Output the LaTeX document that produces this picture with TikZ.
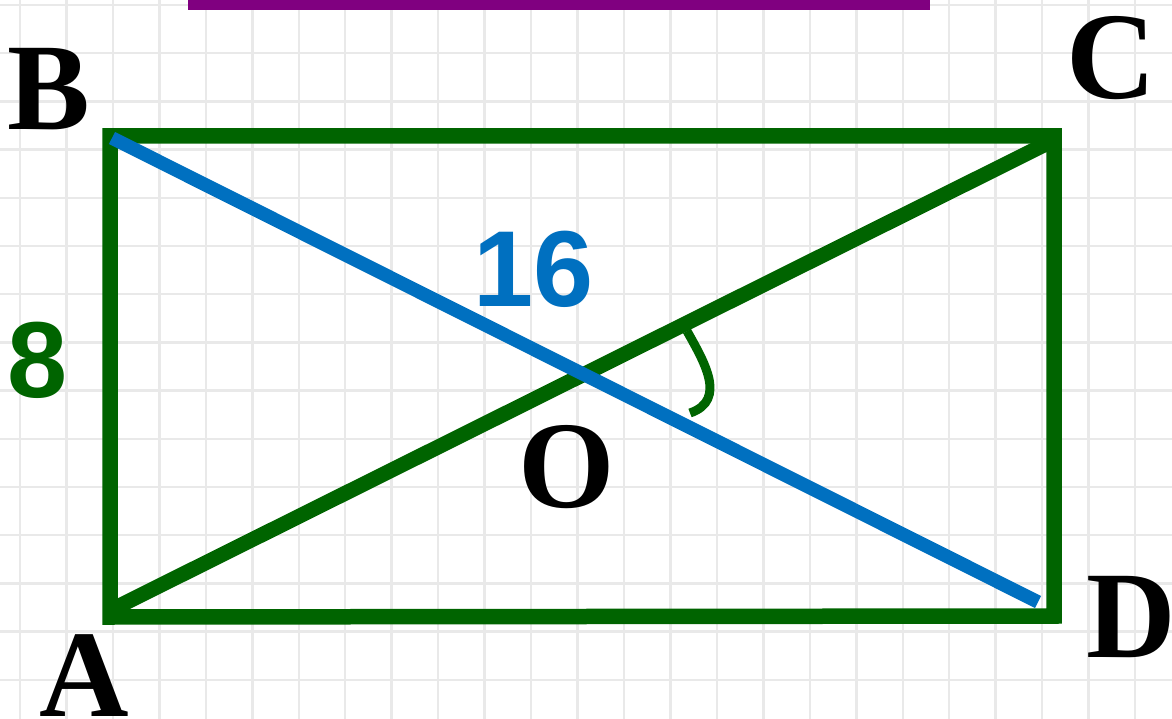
\documentclass[tikz,border=0pt]{standalone}
\usepackage{fontspec}
\setmainfont{Liberation Serif}
\newfontfamily\sansf{Liberation Sans}
\definecolor{rgreen}{RGB}{0,100,0}
\definecolor{rblue}{RGB}{0,112,192}
\definecolor{rpurple}{RGB}{128,0,128}
\definecolor{gridc}{RGB}{233,233,233}
\begin{document}
\begin{tikzpicture}[x=1pt,y=-1pt,
  side/.style={draw=rgreen,line width=15.5pt},
  diagg/.style={draw=rgreen,line width=15pt},
  diagb/.style={draw=rblue,line width=13.5pt},
  anglemark/.style={draw=rgreen,line width=9pt},
  vlabel/.style={inner sep=0pt,font=\fontsize{124}{124}\selectfont\bfseries},
  nlabel/.style={inner sep=0pt,font=\fontsize{108}{108}\selectfont\sansf\bfseries},
  gridline/.style={draw=gridc,line width=2.5pt}]
\useasboundingbox (0,0) rectangle (1172,719);
\fill[white] (0,0) rectangle (1172,719);
% grid
\foreach \i in {0,...,25} { \draw[gridline] ({20+46.46*\i},0) -- ({20+46.46*\i},719); }
\foreach \j in {0,...,14} { \draw[gridline] (0,{5+48.2*\j}) -- (1172,{5+48.2*\j}); }
% purple bar
\fill[rpurple] (188,0) rectangle (930,10);
% points
\coordinate (A) at (110,617);
\coordinate (B) at (110,136);
\coordinate (C) at (1054,136);
\coordinate (D) at (1054,616);
\coordinate (Ag) at (113,609);
\coordinate (Cg) at (1052,141);
\coordinate (Bb) at (112,138);
\coordinate (Db) at (1038,602);
\coordinate (a1) at (687,331);
\coordinate (a2) at (690,413);
% rectangle
\draw[side,line join=miter] (A) -- (B) -- (C) -- (D) -- cycle;
% diagonals
\draw[diagg] (Ag) -- (Cg);
\draw[diagb] (Bb) -- (Db);
% angle mark
\draw[anglemark] (a1) .. controls (703,360) and (728,400) .. (a2);
% labels
\node[vlabel,anchor=base] (lB) at (49,130) {B};
\node[vlabel,anchor=base] (lC) at (1111,99) {C};
\node[vlabel,anchor=base] (lA) at (84,716) {A};
\node[vlabel,anchor=base west] (lD) at (1086,657) {D};
\node[vlabel,anchor=base] (lO) at (567,507) {O};
\node[nlabel,anchor=base,text=rblue] (l16) at (534,306) {16};
\node[nlabel,anchor=base,text=rgreen] (l8) at (38,397) {8};
\end{tikzpicture}
\end{document}
